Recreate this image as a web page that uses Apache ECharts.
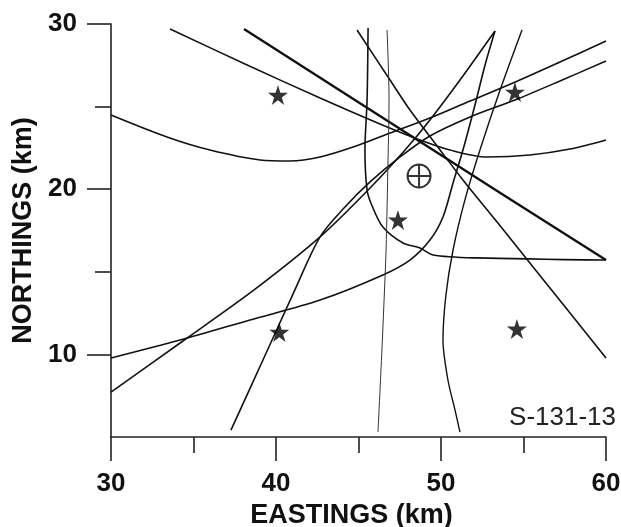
<!DOCTYPE html>
<html>
<head>
<meta charset="utf-8">
<script src="https://cdn.jsdelivr.net/npm/echarts@6/dist/echarts.min.js"></script>
<style>
html,body{margin:0;padding:0;background:#fff;}
#chart{width:621px;height:527px;}
</style>
</head>
<body>
<div id="chart"></div>
<script>
// Axis ranges and ticks
const xRange = [30, 60];
const yRange = [5, 30];
const xMajorTicks = [30, 40, 50, 60];
const xMinorTicks = [35, 45, 55];
const yMajorTicks = [10, 20, 30];
const yMinorTicks = [15, 25];

// Curves [easting, northing]
const curveC1 = [[33.58,29.70],[38.12,27.58],[42.67,25.52],[46.30,23.95],[48.73,22.98],[50.55,22.37],[52.79,21.95],[55.39,22.07],[57.82,22.43],[60.00,22.98]];
const curveC2 = [[38.06,29.70],[49.00,22.70],[60.00,15.71]];
const curveC3 = [[30.00,24.49],[33.39,23.16],[36.00,22.37],[39.03,21.77],[40.85,21.71],[42.67,21.95],[44.67,22.55],[46.91,23.40],[49.33,24.31],[51.76,25.34],[54.36,26.43],[57.21,27.70],[60.00,28.97]];
const curveA  = [[30.00,7.72],[34.36,10.81],[38.67,13.90],[42.67,17.11],[45.70,20.07],[47.82,22.37],[49.33,24.19],[51.15,26.61],[53.27,29.58]];
const curveB  = [[37.27,5.42],[39.21,9.66],[41.09,13.78],[42.67,17.11],[44.18,18.92],[45.70,20.44],[47.52,21.95],[49.33,23.22],[51.76,24.37],[54.48,25.40],[57.21,26.55],[60.00,27.76]];
const curveD  = [[30.00,9.78],[34.18,10.87],[38.42,12.08],[42.67,13.29],[46.48,14.81],[48.12,15.71],[49.33,16.92],[50.12,18.32],[50.73,20.38],[51.33,22.37],[52.06,25.10],[52.67,27.52],[53.27,29.58]];
const curveC5 = [[45.58,29.76],[45.52,25.40],[45.39,22.37],[45.52,19.95],[45.82,19.00],[46.48,17.71],[47.70,16.74],[48.73,16.44],[49.52,16.02],[52.18,15.84],[60.00,15.71]];
const curveC6 = [[44.91,29.64],[46.91,26.61],[48.12,24.79],[49.76,22.62],[51.33,20.56],[53.45,17.95],[55.58,15.29],[57.82,12.51],[60.00,9.78]];
const curveV2 = [[46.73,29.64],[46.85,25.40],[46.79,21.77],[46.67,16.32],[46.55,13.29],[46.42,10.27],[46.18,5.30]];
const curveC7 = [[54.91,29.64],[53.58,26.00],[52.36,22.37],[51.45,19.35],[50.73,16.32],[50.30,13.60],[50.12,10.87],[50.42,8.45],[50.85,6.63],[51.15,5.30]];

// Stations (stars) and epicentre
const stations = [[40.12,25.70],[54.48,25.88],[47.39,18.14],[40.20,11.35],[54.60,11.54]];
const epicentre = [[48.67,20.80]];
const plotLabel = 'S-131-13';

const FONT = '"Liberation Sans", Arial, sans-serif';
const STAR = 'path://M50,0L61.2,34.5L97.6,34.5L68.2,55.9L79.4,90.5L50,69.1L20.6,90.5L31.8,55.9L2.4,34.5L38.8,34.5Z';
const CROSSCIRCLE = 'path://M1,12A11,11 0 1,1 23,12A11,11 0 1,1 1,12ZM12,1L12,23M1,12L23,12';

function lineSeries(data, width, color) {
  return {
    type: 'line', data: data, showSymbol: false, smooth: 0.3,
    lineStyle: { color: color || '#111', width: width || 1.6 },
    silent: true, animation: false, z: 2
  };
}

const chart = echarts.init(document.getElementById('chart'), null, { renderer: 'canvas' });
chart.setOption({
  backgroundColor: '#fff',
  animation: false,
  grid: { left: 111, right: 15, top: 24, bottom: 90, containLabel: false, outerBoundsMode: 'none' },
  xAxis: [{
    type: 'value', min: xRange[0], max: xRange[1],
    name: 'EASTINGS (km)', nameLocation: 'middle', nameGap: 63,
    nameTextStyle: { fontFamily: FONT, fontWeight: 'bold', fontSize: 27, color: '#111', padding: [0, 14, 0, 0] },
    axisLine: { show: true, onZero: false, lineStyle: { color: '#222', width: 1.6 } },
    axisTick: { show: true, customValues: xMajorTicks, length: 24, lineStyle: { color: '#222', width: 1.6 } },
    axisLabel: { show: true, customValues: xMajorTicks, margin: 34, fontFamily: FONT, fontWeight: 'bold', fontSize: 26, color: '#111' },
    splitLine: { show: false }
  }, {
    type: 'value', min: xRange[0], max: xRange[1], position: 'bottom',
    axisLine: { show: false },
    axisTick: { show: true, customValues: xMinorTicks, length: 16, lineStyle: { color: '#222', width: 1.6 } },
    axisLabel: { show: false }, splitLine: { show: false }
  }],
  yAxis: [{
    type: 'value', min: yRange[0], max: yRange[1],
    name: 'NORTHINGS (km)', nameLocation: 'middle', nameGap: 72, nameRotate: 90,
    nameTextStyle: { fontFamily: FONT, fontWeight: 'bold', fontSize: 27, color: '#111' },
    axisLine: { show: true, onZero: false, lineStyle: { color: '#222', width: 1.6 } },
    axisTick: { show: true, customValues: yMajorTicks, length: 24, lineStyle: { color: '#222', width: 1.6 } },
    axisLabel: { show: true, customValues: yMajorTicks, margin: 34, fontFamily: FONT, fontWeight: 'bold', fontSize: 26, color: '#111' },
    splitLine: { show: false }
  }, {
    type: 'value', min: yRange[0], max: yRange[1], position: 'left',
    axisLine: { show: false },
    axisTick: { show: true, customValues: yMinorTicks, length: 16, lineStyle: { color: '#222', width: 1.6 } },
    axisLabel: { show: false }, splitLine: { show: false }
  }],
  series: [
    lineSeries(curveC1, 1.6),
    lineSeries(curveC2, 2.4),
    lineSeries(curveC3, 1.6),
    lineSeries(curveA, 1.6),
    lineSeries(curveB, 1.6),
    lineSeries(curveD, 1.6),
    lineSeries(curveC5, 1.6),
    lineSeries(curveC6, 1.6),
    lineSeries(curveV2, 1.0, '#333'),
    lineSeries(curveC7, 1.4),
    {
      type: 'scatter', data: stations, symbol: STAR, symbolSize: 20,
      itemStyle: { color: '#000' }, silent: true, z: 5
    },
    {
      type: 'scatter', data: epicentre, symbol: CROSSCIRCLE, symbolSize: 23,
      itemStyle: { color: 'rgba(0,0,0,0)', borderColor: '#000', borderWidth: 2 }, silent: true, z: 6
    }
  ],
  graphic: [{
    type: 'text', right: 5, top: 405,
    style: { text: plotLabel, font: '26px ' + FONT, fill: '#222' }
  }]
});
</script>
</body>
</html>
